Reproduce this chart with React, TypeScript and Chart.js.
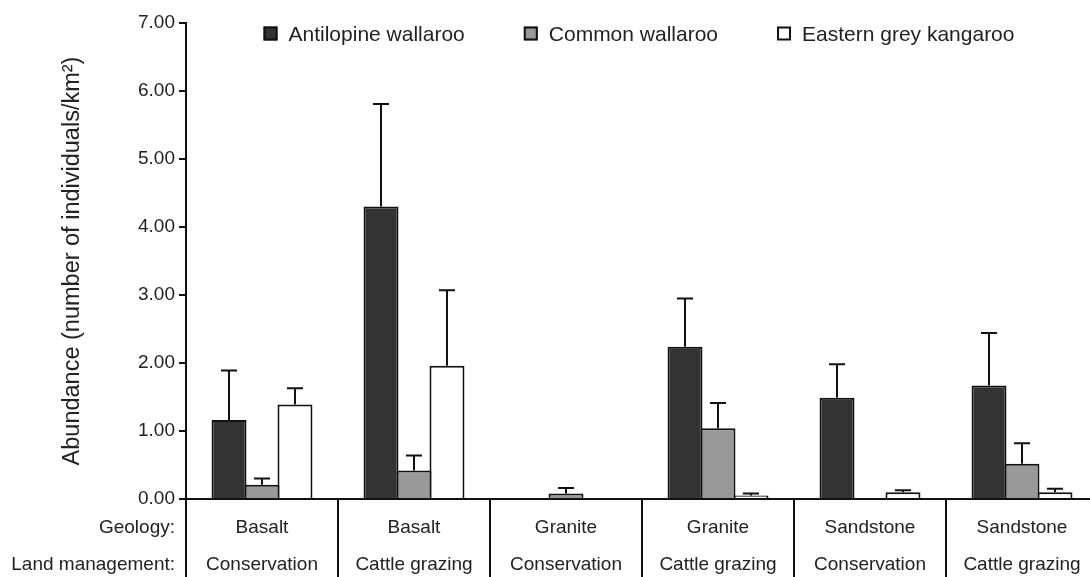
import React, { useEffect, useRef } from 'react';
import { Chart, registerables } from 'chart.js';

Chart.register(...registerables);

const geology = ['Basalt', 'Basalt', 'Granite', 'Granite', 'Sandstone', 'Sandstone'];
const management = ['Conservation', 'Cattle grazing', 'Conservation', 'Cattle grazing', 'Conservation', 'Cattle grazing'];
const rowLabels = ['Geology:', 'Land management:'];
const seriesNames = ['Antilopine wallaroo', 'Common wallaroo', 'Eastern grey kangaroo'];
const seriesColors = ['#333333', '#999999', '#ffffff'];

const antilopine = [1.16, 4.30, 0, 2.24, 1.49, 1.67];
const antilopineSE = [0.73, 1.51, 0, 0.71, 0.49, 0.77];
const common = [0.21, 0.42, 0.08, 1.04, 0, 0.52];
const commonSE = [0.09, 0.22, 0.08, 0.37, 0, 0.30];
const eastern = [1.39, 1.96, 0, 0.05, 0.10, 0.10];
const easternSE = [0.24, 1.11, 0, 0.03, 0.03, 0.05];

const yMin = 0;
const yMax = 7;
const yStep = 1;
const yTitle = 'Abundance (number of individuals/km²)';

const FONT = '"Liberation Sans", Arial, Helvetica, sans-serif';
const TEXT = '#222222';
const LINE = '#111111';
const X_PAD = 10;
const X_LINE_H = 37;

export default function App() {
  const ref = useRef<HTMLCanvasElement>(null);

  useEffect(() => {
    if (!ref.current) return;

    const errorBars = {
      id: 'errorBars',
      afterDatasetsDraw(chart: any) {
        const ctx = chart.ctx;
        const y = chart.scales.y;
        chart.data.datasets.forEach((ds: any, di: number) => {
          const meta = chart.getDatasetMeta(di);
          meta.data.forEach((bar: any, i: number) => {
            const se = ds.se[i];
            if (!se) return;
            const top = y.getPixelForValue(ds.data[i] + se);
            const half = bar.width * 0.23;
            ctx.save();
            ctx.strokeStyle = LINE;
            ctx.lineWidth = 2;
            ctx.beginPath();
            ctx.moveTo(bar.x, bar.y);
            ctx.lineTo(bar.x, top);
            ctx.moveTo(bar.x - half, top);
            ctx.lineTo(bar.x + half, top);
            ctx.stroke();
            ctx.restore();
          });
        });
      },
    };

    const extras = {
      id: 'extras',
      afterDraw(chart: any) {
        const ctx = chart.ctx;
        const xs = chart.scales.x;
        const area = chart.chartArea;
        const n = chart.data.labels.length;
        const step = n > 1 ? xs.getPixelForValue(1) - xs.getPixelForValue(0) : area.right - area.left;
        ctx.save();
        // separators below the axis
        ctx.strokeStyle = LINE;
        ctx.lineWidth = 2;
        ctx.beginPath();
        for (let i = 0; i < n; i++) {
          const bx = Math.round(xs.getPixelForValue(i) - step / 2);
          ctx.moveTo(bx, xs.top);
          ctx.lineTo(bx, chart.height);
        }
        ctx.stroke();

        // row labels
        ctx.fillStyle = TEXT;
        ctx.font = `19px ${FONT}`;
        ctx.textAlign = 'right';
        ctx.textBaseline = 'middle';
        rowLabels.forEach((t, r) => {
          ctx.fillText(t, area.left - 11, xs.top + X_PAD + X_LINE_H * (r + 0.5));
        });

        // legend
        ctx.font = `21px ${FONT}`;
        ctx.textAlign = 'left';
        ctx.textBaseline = 'alphabetic';
        const box = 14;
        const gapText = 11;
        const gapItem = 59;
        const widths = seriesNames.map((s) => box + gapText + ctx.measureText(s).width);
        const total = widths.reduce((a, b) => a + b, 0) + gapItem * (widths.length - 1);
        let lx = (area.left + area.right) / 2 - total / 2 - 3;
        const cy = 33.5;
        seriesNames.forEach((s, i) => {
          ctx.fillStyle = seriesColors[i];
          ctx.fillRect(lx, cy - box / 2, box, box);
          ctx.strokeStyle = LINE;
          ctx.lineWidth = 2;
          ctx.strokeRect(lx + 1, cy - box / 2 + 1, box - 2, box - 2);
          ctx.fillStyle = TEXT;
          ctx.fillText(s, lx + box + gapText, cy + 7);
          lx += widths[i] + gapItem;
        });
        ctx.restore();
      },
    };

    const mk = (i: number, data: number[], se: number[]) => ({
      label: seriesNames[i],
      data,
      se,
      backgroundColor: seriesColors[i],
      borderColor: LINE,
      borderWidth: 2,
      categoryPercentage: 0.651,
      barPercentage: 1.06,
    });

    const chart = new Chart(ref.current, {
      type: 'bar',
      data: {
        labels: geology.map((g, i) => [g, management[i]]),
        datasets: [
          mk(0, antilopine, antilopineSE),
          mk(1, common, commonSE),
          mk(2, eastern, easternSE),
        ] as any,
      },
      options: {
        animation: false,
        responsive: true,
        maintainAspectRatio: false,
        layout: { padding: { top: 23, right: 0, bottom: 0, left: 0 } },
        plugins: {
          legend: { display: false },
          tooltip: { enabled: false },
        },
        scales: {
          x: {
            type: 'category',
            offset: true,
            grid: { display: false, drawTicks: false, tickLength: 0 },
            border: { display: true, color: LINE, width: 2 },
            ticks: {
              color: TEXT,
              font: { family: FONT, size: 19, lineHeight: X_LINE_H / 19 },
              padding: X_PAD,
              autoSkip: false,
              maxRotation: 0,
              minRotation: 0,
            },
            afterFit: (s: any) => {
              s.height = 78;
            },
          },
          y: {
            min: yMin,
            max: yMax,
            ticks: {
              stepSize: yStep,
              color: TEXT,
              font: { family: FONT, size: 19 },
              padding: 4,
              callback: (v: any) => Number(v).toFixed(2),
            },
            grid: {
              drawOnChartArea: false,
              drawTicks: true,
              tickLength: 7,
              color: LINE,
              lineWidth: 2,
            },
            border: { display: true, color: LINE, width: 2 },
            title: {
              display: true,
              text: yTitle,
              color: TEXT,
              font: { family: FONT, size: 23.5 },
              padding: { top: 58, bottom: 0 },
            },
            afterFit: (s: any) => {
              s.width = 186;
            },
          },
        },
      },
      plugins: [errorBars, extras],
    } as any);

    return () => chart.destroy();
  }, []);

  return (
    <div style={{ position: 'fixed', left: 0, top: 0, width: 1090, height: 577, overflow: 'hidden', background: '#fff' }}>
      <div style={{ position: 'relative', width: 1098, height: 577 }}>
        <canvas ref={ref} />
      </div>
    </div>
  );
}
